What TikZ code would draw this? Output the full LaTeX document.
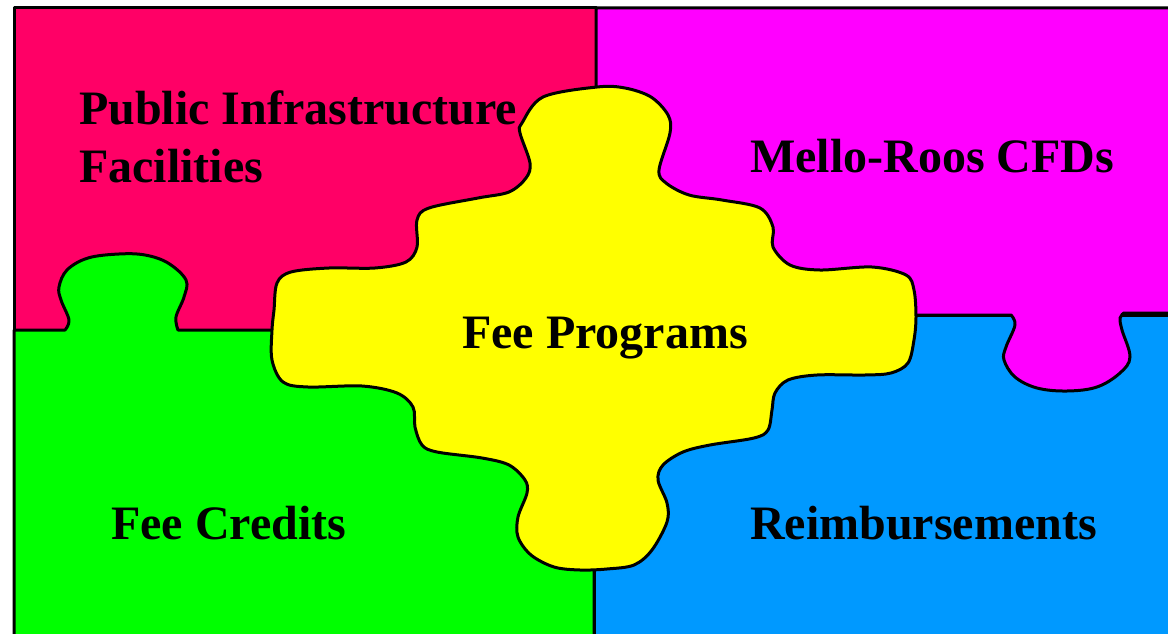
\documentclass[tikz,border=0pt]{standalone}
\usepackage{fontspec}
\setmainfont{Liberation Serif}
\definecolor{infrared}{HTML}{FF0066}
\definecolor{mellomagenta}{HTML}{FF00FF}
\definecolor{creditgreen}{HTML}{00FF00}
\definecolor{reimbblue}{HTML}{0099FF}
\definecolor{feeyellow}{HTML}{FFFF00}
\begin{document}
\begin{tikzpicture}[x=1pt, y=-1pt,
    piece/.style={draw=black, line width=3pt, line join=round},
    piecetext/.style={font=\fontsize{48}{58}\selectfont\bfseries, inner sep=0, anchor=base west}]
      \useasboundingbox (0,0) rectangle (1168,634);
      \clip (0,0) rectangle (1168,634);
      \draw [piece, fill=infrared] (14,8) rectangle (596,330);
      \draw [piece, fill=reimbblue] (594,315) rectangle (1190,660);
      \draw [piece, fill=mellomagenta] (596,8) -- (1190,8) -- (1190,313)
        -- plot [smooth, tension=0.6] coordinates {(1124,313) (1120,318) (1122,330) (1130,357) (1120,373) (1097,387) (1067,391) (1037,388) (1015,377) (1004,360) (1006,347) (1015,325) (1011,315)}
        -- (596,315) -- cycle;
      \draw [piece, fill=creditgreen] (14,330)
        -- plot [smooth, tension=0.6] coordinates {(65,330) (69,320) (61,300) (59,287) (67,270) (88,258) (119,254) (145,255) (168,263) (186,280) (184,297) (176,317) (178,330)}
        -- (594,330) -- (594,660) -- (14,660) -- cycle;
      \draw [piece, fill=feeyellow] plot [smooth cycle, tension=0.55] coordinates {
        (597,87) (625,88) (651,97) (668,115) (670,133) (659,170) (666,183) (689,195) (722,200) (760,208)
        (773,227) (773,247) (790,265) (820,270) (872,267) (906,275) (914,290) (916,317) (914,340) (908,363)
        (891,373) (865,375) (817,375) (788,380) (775,393) (772,410) (768,430) (754,438) (710,445) (683,452)
        (663,465) (658,480) (667,503) (667,522) (652,550) (634,565) (607,569) (580,570) (554,567) (531,555)
        (518,537) (518,517) (527,493) (525,480) (509,465) (482,458) (437,452) (422,445) (415,427) (413,407)
        (397,393) (362,386) (308,387) (283,382) (272,360) (272,330) (274,310) (277,283) (291,272) (329,268)
        (375,268) (406,262) (417,247) (417,220) (429,208) (478,198) (509,192) (526,178) (530,163) (520,133)
        (522,123) (543,97)};
      \node [piecetext, align=left] (infra) at (79,182) {Public Infrastructure\\Facilities};
      \node [piecetext] (mello) at (750,172) {Mello-Roos CFDs};
      \node [piecetext] (fee) at (462,348) {Fee Programs};
      \node [piecetext] (credits) at (111,539) {Fee Credits};
      \node [piecetext] (reimb) at (750,539) {Reimbursements};
    \end{tikzpicture}
\end{document}
